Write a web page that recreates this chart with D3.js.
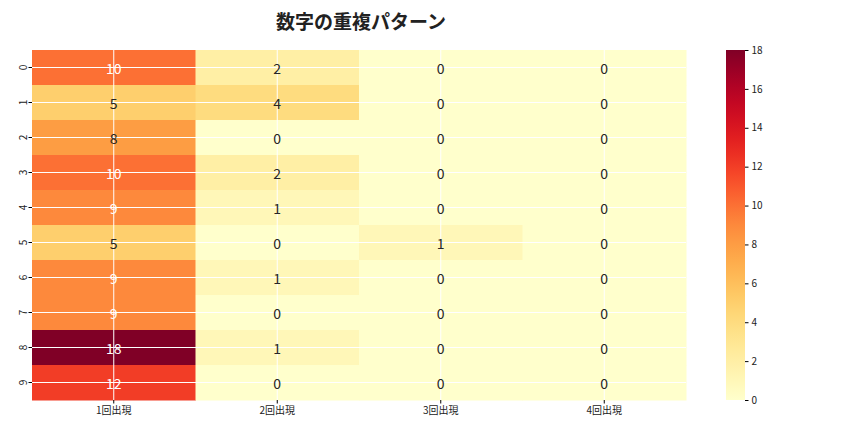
<!DOCTYPE html>
<html><head><meta charset="utf-8">
<script src="https://cdn.jsdelivr.net/npm/d3@7"></script>
<style>body{margin:0;background:#fff}text{font-family:"Noto Sans CJK JP","DejaVu Sans",sans-serif}</style>
</head><body><svg id="c" width="864" height="432"></svg>
<script>
const rows = ["0","1","2","3","4","5","6","7","8","9"];
const cols = ["1回出現","2回出現","3回出現","4回出現"];
const values = [
 [10,2,0,0],[5,4,0,0],[8,0,0,0],[10,2,0,0],[9,1,0,0],
 [5,0,1,0],[9,1,0,0],[9,0,0,0],[18,1,0,0],[12,0,0,0]];
const cbTicks = [0,2,4,6,8,10,12,14,16,18];
const svg = d3.select("#c");
const L=32,R=686,T=50,B=400;
const x = d3.scaleBand().domain(cols).range([L,R]);
const y = d3.scaleBand().domain(rows).range([T,B]);
const color = v => d3.interpolateYlOrRd(v/18);
function lum(c){const r=d3.rgb(c);const f=v=>{v/=255;return v<=0.03928?v/12.92:Math.pow((v+0.055)/1.055,2.4)};return 0.2126*f(r.r)+0.7152*f(r.g)+0.0722*f(r.b);}
const cells=[];values.forEach((r,i)=>r.forEach((v,j)=>cells.push({i,j,v})));
svg.selectAll("rect.cell").data(cells).enter().append("rect")
 .attr("x",d=>x(cols[d.j])).attr("y",d=>y(rows[d.i])).attr("width",x.bandwidth()+0.5).attr("height",y.bandwidth()+0.5)
 .attr("fill",d=>color(d.v));
// grid lines
const g=svg.append("g").attr("stroke","#fff").attr("stroke-width",1);
rows.forEach(r=>g.append("line").attr("x1",L).attr("x2",R).attr("y1",y(r)+y.bandwidth()/2).attr("y2",y(r)+y.bandwidth()/2));
cols.forEach(c=>g.append("line").attr("y1",T).attr("y2",B).attr("x1",x(c)+x.bandwidth()/2).attr("x2",x(c)+x.bandwidth()/2));
svg.selectAll("text.val").data(cells).enter().append("text")
 .attr("x",d=>x(cols[d.j])+x.bandwidth()/2).attr("y",d=>y(rows[d.i])+y.bandwidth()/2)
 .attr("text-anchor","middle").attr("dominant-baseline","central").attr("font-size",14)
 .attr("fill",d=>lum(color(d.v))>0.408?"#262626":"#fff").text(d=>d.v);
// axes
const xa=svg.append("g").attr("transform",`translate(0,${B})`).call(d3.axisBottom(x).tickSizeOuter(0).tickSize(3.5));
xa.select(".domain").remove(); xa.selectAll("text").attr("font-size",10).attr("fill","#222");
const ya=svg.append("g").attr("transform",`translate(${L},0)`).call(d3.axisLeft(y).tickSizeOuter(0).tickSize(3.5));
ya.select(".domain").remove();
ya.selectAll(".tick text").attr("font-size",10).attr("fill","#222").attr("text-anchor","middle").attr("dominant-baseline","auto")
 .attr("x",-9).attr("dy",0).attr("transform","rotate(-90,-9,0)").attr("y",4);
// colorbar
const cx=726,cw=19;
const cy=d3.scaleLinear().domain([0,18]).range([B,T]);
const defs=svg.append("defs");const lg=defs.append("linearGradient").attr("id","g").attr("x1",0).attr("x2",0).attr("y1",1).attr("y2",0);
d3.range(0,1.001,0.05).forEach(t=>lg.append("stop").attr("offset",t).attr("stop-color",d3.interpolateYlOrRd(t)));
svg.append("rect").attr("x",cx).attr("y",T).attr("width",cw).attr("height",B-T).attr("fill","url(#g)");
const ca=svg.append("g").attr("transform",`translate(${cx+cw},0)`).call(d3.axisRight(cy).tickValues(cbTicks).tickSize(3.5));
ca.select(".domain").remove(); ca.selectAll("text").attr("font-size",10).attr("fill","#222");
svg.append("text").attr("x",(L+R)/2+2).attr("y",29).attr("text-anchor","middle").attr("font-size",19).attr("font-weight","bold").attr("fill","#222").text("数字の重複パターン");
</script></body></html>
